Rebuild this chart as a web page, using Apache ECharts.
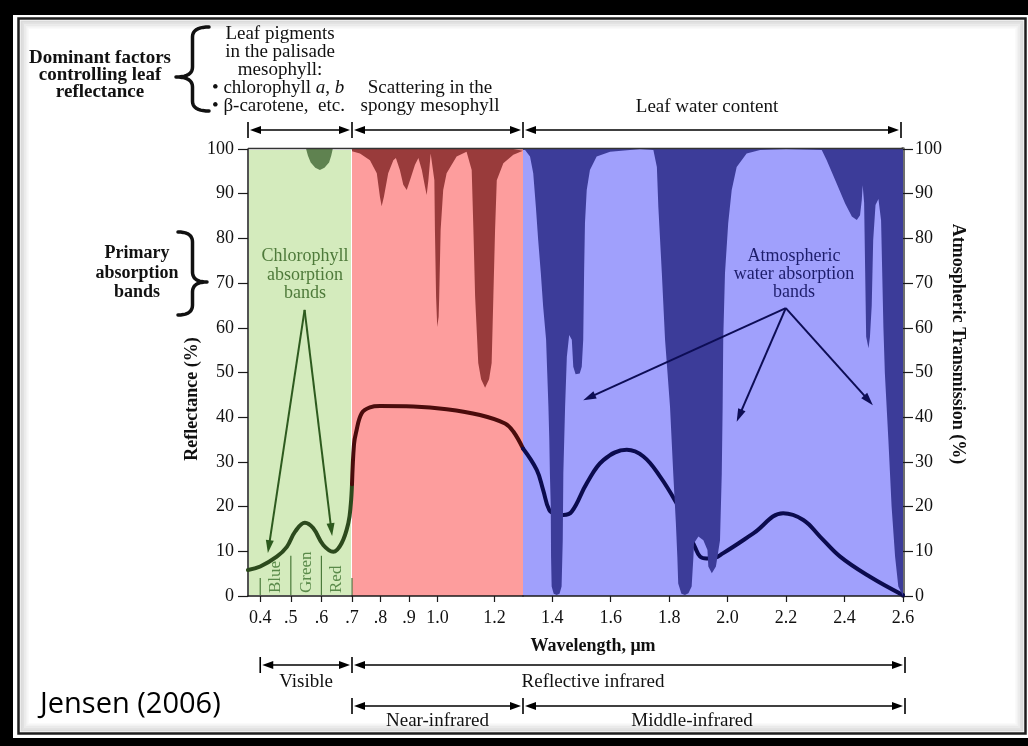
<!DOCTYPE html>
<html><head><meta charset="utf-8">
<script src="https://cdn.jsdelivr.net/npm/echarts@6/dist/echarts.min.js"></script>
<style>html,body{margin:0;padding:0;background:#000}#c{width:1028px;height:746px}</style>
</head><body><div id="c"></div>
<script>
// ---------------- DATA ----------------
const xTickValues = [0.4, 0.5, 0.6, 0.7, 0.8, 0.9, 1.0, 1.2, 1.4, 1.6, 1.8, 2.0, 2.2, 2.4, 2.6];
const xTickLabels = ['0.4', '.5', '.6', '.7', '.8', '.9', '1.0', '1.2', '1.4', '1.6', '1.8', '2.0', '2.2', '2.4', '2.6'];
const regionBounds = [0.36, 0.7, 1.3, 2.6]; // visible | near-IR | middle-IR

// leaf reflectance (%) vs wavelength (um)
const reflectanceVisible = [[0.36,5.8],[0.40,6.6],[0.454,8.8],[0.487,11.0],[0.514,14.4],[0.546,16.4],[0.573,15.2],[0.606,11.4],[0.639,9.9],[0.666,11.8],[0.688,16.3],[0.696,20.5],[0.70,25.0]];
const reflectanceNIR = [[0.70,25.0],[0.707,33.9],[0.714,36.5],[0.734,40.9],[0.763,42.2],[0.798,42.5],[0.915,42.4],[1.032,41.8],[1.149,40.5],[1.237,38.6],[1.266,36.8],[1.30,33.0]];
const reflectanceSWIR = [[1.30,33.0],[1.347,28.2],[1.369,23.7],[1.39,19.2],[1.413,18.3],[1.438,18.1],[1.467,18.9],[1.518,25.2],[1.575,30.4],[1.655,32.7],[1.712,31.2],[1.769,26.7],[1.826,20.7],[1.854,17.0],[1.871,13.5],[1.888,11.0],[1.906,8.8],[1.928,8.4],[1.946,8.4],[1.985,9.6],[2.088,14.0],[2.19,18.5],[2.259,17.0],[2.316,13.3],[2.385,8.8],[2.487,4.3],[2.60,0.2]];

// atmospheric transmission (%) vs wavelength (um)
const transmissionVisible = [[0.36,100],[0.55,100],[0.556,98.5],[0.565,97],[0.58,95.8],[0.595,95.3],[0.61,95.8],[0.625,97],[0.632,98.5],[0.637,100],[0.70,100]];
const transmissionNIR = [[0.70,99.5],[0.707,99.3],[0.728,99],[0.763,97.5],[0.787,94.6],[0.798,89.3],[0.804,87.2],[0.812,89.3],[0.827,94.6],[0.845,97.5],[0.854,98],[0.868,95.3],[0.880,92],[0.892,90.8],[0.906,93.5],[0.921,96.5],[0.933,98],[0.945,95.3],[0.956,91.6],[0.962,89.7],[0.968,93],[0.976,99],[0.989,93],[0.991,81.9],[0.995,67],[0.999,60.2],[1.004,62.5],[1.006,67],[1.011,81.9],[1.020,90.8],[1.032,94.6],[1.067,98.3],[1.102,99.4],[1.120,95.3],[1.126,81.9],[1.132,67],[1.143,52.1],[1.153,48.5],[1.167,46.6],[1.181,48.5],[1.190,52.1],[1.196,67],[1.202,81.9],[1.208,93],[1.231,96.8],[1.266,98.7],[1.30,99.6]];
const transmissionSWIR = [[1.300,99.8],[1.307,99.8],[1.324,98.3],[1.335,94.6],[1.344,87.1],[1.352,79.6],[1.361,72.2],[1.369,64.7],[1.379,57.3],[1.383,49.8],[1.387,42.3],[1.390,34.9],[1.392,27.4],[1.395,20],[1.396,8.8],[1.398,2.1],[1.405,0.5],[1.415,0.2],[1.425,0.5],[1.432,2.1],[1.436,12.5],[1.438,27.4],[1.444,42.3],[1.450,53.5],[1.458,58.4],[1.467,57.3],[1.472,51.3],[1.480,49.6],[1.486,49.4],[1.494,49.8],[1.501,51.3],[1.506,57.3],[1.509,72.2],[1.512,83.4],[1.518,90.8],[1.529,95.3],[1.552,98.3],[1.598,99.4],[1.666,99.8],[1.70,100],[1.746,99.8],[1.758,96],[1.763,87.1],[1.775,72.2],[1.786,57.3],[1.803,42.3],[1.814,27.4],[1.823,16.3],[1.828,8.8],[1.831,2.8],[1.842,0.5],[1.854,0.2],[1.866,0.6],[1.877,2.1],[1.883,8.8],[1.885,11.8],[1.900,13.3],[1.917,12.5],[1.931,10.3],[1.934,6.6],[1.946,5.1],[1.960,6.6],[1.974,12.5],[1.980,27.4],[1.983,42.3],[1.985,57.3],[1.991,72.2],[2.002,83.4],[2.014,90.8],[2.031,96],[2.065,99],[2.111,99.8],[2.20,100],[2.322,99.8],[2.339,97.5],[2.373,92.3],[2.402,87.8],[2.425,84.9],[2.442,84.1],[2.453,85.2],[2.459,88.6],[2.462,91.9],[2.467,88],[2.470,75],[2.474,58],[2.482,55.4],[2.487,58],[2.493,65],[2.498,79.6],[2.506,87.5],[2.516,88.8],[2.525,84],[2.528,75],[2.533,60],[2.538,49.8],[2.550,34.9],[2.561,20],[2.573,8.8],[2.584,2.1],[2.600,0]];

// annotation anchors (wavelength, %)
const chlorophyllArrowApex = [0.545, 64];
const chlorophyllArrowTips = [[0.425, 9.6], [0.635, 13.4]];
const waterArrowApex = [2.199, 64.4];
const waterArrowTips = [[1.506, 43.8], [2.031, 39], [2.497, 42.7]];
const bandLabels = ['Blue', 'Green', 'Red'];
const bandLabelCenters = [0.45, 0.55, 0.65];
const bandDividers = [0.4, 0.5, 0.6, 0.7];
const bandDividerTops = [4, 9, 9, 4];

// ---------------- CHART ----------------
const SERIF = "'Liberation Serif', 'DejaVu Serif', serif";
const chart = echarts.init(document.getElementById('c'), null, {renderer: 'canvas'});

function tickLabel(v) {
  const i = xTickValues.findIndex(t => Math.abs(t - v) < 1e-6);
  return i >= 0 ? xTickLabels[i] : '';
}
function mkX(i, lo, hi, last) {
  const ticks = xTickValues.filter(v => v >= lo - 1e-9 && (last ? v <= hi + 1e-9 : v < hi - 1e-9));
  return {
    gridIndex: i, type: 'value', min: lo, max: hi,
    axisLine: {show: true, onZero: false, lineStyle: {color: '#1a1a1a', width: 1.5}},
    axisTick: {show: true, length: 6, lineStyle: {color: '#1a1a1a', width: 1.2}, customValues: ticks},
    axisLabel: {show: true, customValues: ticks, formatter: tickLabel, margin: 13,
      fontFamily: SERIF, fontSize: 18, color: '#111'},
    splitLine: {show: false}
  };
}
const yLabel = {fontFamily: SERIF, fontSize: 18, color: '#111'};

const option = {
  backgroundColor: '#000',
  animation: false,
  grid: [
    {left: 248, width: 104, top: 149, height: 447, show: true, backgroundColor: '#d4ebbd', borderColor: '#ffffff', borderWidth: 2},
    {left: 352, width: 171, top: 149, height: 447, show: true, backgroundColor: '#fd9d9d', borderWidth: 0},
    {left: 523, width: 380, top: 149, height: 447, show: true, backgroundColor: '#a0a0fc', borderWidth: 0}
  ],
  xAxis: [
    mkX(0, regionBounds[0], regionBounds[1], false),
    mkX(1, regionBounds[1], regionBounds[2], false),
    mkX(2, regionBounds[2], regionBounds[3], true)
  ],
  yAxis: [
    {gridIndex: 0, type: 'value', min: 0, max: 100, interval: 10, position: 'left',
      axisLine: {show: true, lineStyle: {color: '#1a1a1a', width: 1.5}},
      axisTick: {show: true, length: 10, lineStyle: {color: '#1a1a1a', width: 1.2}},
      axisLabel: Object.assign({margin: 14}, yLabel), splitLine: {show: false}},
    {gridIndex: 1, type: 'value', min: 0, max: 100, show: false, splitLine: {show: false}},
    {gridIndex: 2, type: 'value', min: 0, max: 100, interval: 10, position: 'right',
      axisLine: {show: true, lineStyle: {color: '#6e6e6e', width: 4}},
      axisTick: {show: true, length: 10, lineStyle: {color: '#1a1a1a', width: 1.2}},
      axisLabel: Object.assign({margin: 12}, yLabel), splitLine: {show: false}}
  ],
  series: [
    ...[[transmissionVisible, '#5f8250'], [transmissionNIR, '#993b3b'], [transmissionSWIR, '#3c3c99']].map((d, i) => ({
      type: 'line', name: 'Atmospheric transmission', xAxisIndex: i, yAxisIndex: i, data: d[0],
      smooth: false, symbol: 'none', silent: true,
      lineStyle: {width: 0, opacity: 0},
      areaStyle: {color: d[1], opacity: 1, origin: 'end'}, z: 4
    })),
    ...[[reflectanceVisible, '#2c4a1d'], [reflectanceNIR, '#4a0c0c'], [reflectanceSWIR, '#0b0b4e']].map((d, i) => ({
      type: 'line', name: 'Reflectance', xAxisIndex: i, yAxisIndex: i, data: d[0],
      smooth: 0.4, symbol: 'none', silent: true, clip: false,
      lineStyle: {color: d[1], width: 4, cap: 'round', join: 'round'}, z: 3
    }))
  ]
};
chart.setOption(option);

// ---------------- ANNOTATIONS ----------------
const P = (g, x, y) => chart.convertToPixel({gridIndex: g}, [x, y]);
const G = [];
function txt(text, x, y, o) {
  o = o || {};
  const size = o.size || 19, weight = o.bold ? 'bold' : 'normal', fam = o.family || SERIF;
  const el = {type: 'text', x: x, y: y, rotation: o.rot || 0, z: 100,
    style: {text: text, x: 0, y: 0, fill: o.color || '#111',
      font: weight + ' ' + size + 'px ' + fam, fontSize: size, fontFamily: fam, fontWeight: weight,
      textAlign: o.align || 'center', align: o.align || 'center',
      textVerticalAlign: 'middle', verticalAlign: 'middle',
      lineHeight: o.lh || size}};
  if (o.rich) el.style.rich = o.rich;
  G.push(el);
}
function line(x1, y1, x2, y2, color, w) {
  G.push({type: 'line', z: 100, shape: {x1, y1, x2, y2}, style: {stroke: color || '#000', lineWidth: w || 1.6}});
}
function arrow(x1, y1, x2, y2, o) {
  o = o || {};
  const color = o.color || '#000', width = o.width || 1.6, hl = o.hl || 11, hw = o.hw || 8;
  const start = !!o.start, end = o.end !== false;
  const dx = x2 - x1, dy = y2 - y1, L = Math.hypot(dx, dy), ux = dx / L, uy = dy / L, nx = -uy, ny = ux;
  const sx = start ? x1 + ux * hl * 0.8 : x1, sy = start ? y1 + uy * hl * 0.8 : y1;
  const ex = end ? x2 - ux * hl * 0.8 : x2, ey = end ? y2 - uy * hl * 0.8 : y2;
  line(sx, sy, ex, ey, color, width);
  const head = (tx, ty, ax, ay) => G.push({type: 'polygon', z: 100, shape: {points: [[tx, ty],
    [tx - ax * hl + nx * hw / 2, ty - ay * hl + ny * hw / 2], [tx - ax * hl - nx * hw / 2, ty - ay * hl - ny * hw / 2]]},
    style: {fill: color}});
  if (end) head(x2, y2, ux, uy);
  if (start) head(x1, y1, -ux, -uy);
}
function bar(x, y) { line(x, y - 8, x, y + 8, '#000', 1.6); }
function brace(xEnd, xTip, yTop, yTip, yBot) {
  const xm = xEnd + (xTip - xEnd) * 0.5, r = 10, pts = [];
  const quad = (p0, p1, p2) => { for (let t = 0; t <= 1.0001; t += 0.1) {
    pts.push([(1-t)*(1-t)*p0[0] + 2*(1-t)*t*p1[0] + t*t*p2[0], (1-t)*(1-t)*p0[1] + 2*(1-t)*t*p1[1] + t*t*p2[1]]); } };
  quad([xEnd, yTop], [xm, yTop], [xm, yTop + r]);
  quad([xm, yTip - r], [xm, yTip], [xTip, yTip]);
  quad([xTip, yTip], [xm, yTip], [xm, yTip + r]);
  quad([xm, yBot - r], [xm, yBot], [xEnd, yBot]);
  G.push({type: 'polyline', z: 100, shape: {points: pts}, style: {stroke: '#111', lineWidth: 3.5, fill: null, lineJoin: 'round', lineCap: 'round'}});
}

// frame
G.push({type: 'rect', z: -10, shape: {x: 13, y: 15, width: 1015, height: 723}, style: {fill: '#fff'}});
for (let k = 5; k >= 1; k--) {
  const d = 1.2 + k * 1.7;
  G.push({type: 'rect', z: -9, shape: {x: 18.5 + d, y: 18.5 + d, width: 1007 - 2 * d, height: 715 - 2 * d},
    style: {fill: null, stroke: 'rgba(0,0,0,' + (0.17 - k * 0.03).toFixed(3) + ')', lineWidth: 1.8}});
}
G.push({type: 'rect', z: -8, shape: {x: 18.5, y: 18.5, width: 1007, height: 715}, style: {fill: null, stroke: '#1e1e1e', lineWidth: 2.5}});

const xL = P(0, regionBounds[0], 100)[0], x07 = P(1, regionBounds[1], 100)[0];
const x13 = P(2, regionBounds[2], 100)[0], xR = P(2, regionBounds[3], 100)[0];
const x04 = P(0, 0.4, 0)[0];
const yTop = P(0, 0.4, 100)[1];
// top frame line of plot
line(xL, yTop - 0.5, xR, yTop - 0.5, '#333', 1.5);

// top arrow row
const yA = 130;
[xL, x07, x13, xR - 2].forEach(x => bar(x, yA));
arrow(xL + 2, yA, x07 - 2, yA, {start: true});
arrow(x07 + 2, yA, x13 - 2, yA, {start: true});
arrow(x13 + 2, yA, xR - 4, yA, {start: true});

// bottom arrow rows
const yB1 = 665, yB2 = 706;
[x04, x07, xR + 2].forEach(x => bar(x, yB1));
arrow(x04 + 2, yB1, x07 - 2, yB1, {start: true});
arrow(x07 + 2, yB1, xR, yB1, {start: true});
[x07, x13, xR + 2].forEach(x => bar(x, yB2));
arrow(x07 + 2, yB2, x13 - 2, yB2, {start: true});
arrow(x13 + 2, yB2, xR, yB2, {start: true});

// texts top
txt('Dominant factors\ncontrolling leaf\nreflectance', 100, 75, {bold: true, lh: 17});
brace(209, 176, 27, 77, 111);
txt('Leaf pigments\nin the palisade\nmesophyll:', 280, 52, {lh: 18});
txt('• chlorophyll {i|a}, {i|b}\n• β-carotene,  etc.', 212, 97, {align: 'left', lh: 18,
  rich: {i: {fontStyle: 'italic', fontFamily: SERIF, fontSize: 19, fill: '#111'}}});
txt('Scattering in the\nspongy mesophyll', 430, 97, {lh: 18});
txt('Leaf water content', 707, 107);

// left side
txt('Primary\nabsorption\nbands', 137, 273, {bold: true, lh: 19.5, size: 18});
brace(178, 207, 232, 282, 315);
txt('Reflectance (%)', 192, 399, {bold: true, rot: Math.PI / 2, size: 18});
txt('Atmospheric Transmission (%)', 958, 344, {bold: true, rot: -Math.PI / 2, size: 18});

// bottom texts
txt('Wavelength, μm', 593, 646, {bold: true, size: 18});
txt('Visible', (x04 + x07) / 2, 682);
txt('Reflective infrared', 593, 682);
txt('Near-infrared', (x07 + x13) / 2, 721);
txt('Middle-infrared', 692, 721);
txt('Jensen (2006)', 40, 705, {align: 'left', size: 29, family: "'Open Sans', 'Noto Sans', sans-serif", color: '#000'});

// chlorophyll annotation
txt('Chlorophyll\nabsorption\nbands', 305, 275, {color: '#4e7a3a', lh: 18.5, size: 18});
const ca = P(0, chlorophyllArrowApex[0], chlorophyllArrowApex[1]);
chlorophyllArrowTips.forEach(t => { const p = P(0, t[0], t[1]); arrow(ca[0], ca[1], p[0], p[1], {color: '#2d5a1e', width: 2, hl: 13, hw: 8}); });

// band labels and dividers
bandDividers.forEach((v, i) => {
  const g = v < 0.7 - 1e-9 ? 0 : 1;
  const a = P(g, v, bandDividerTops[i]), b = P(g, v, 0);
  line(a[0], a[1], b[0], b[1] - 1, '#4a7a3a', 1.2);
});
bandLabels.forEach((s, i) => {
  const p = P(0, bandLabelCenters[i], 0);
  txt(s, p[0], 593, {align: 'left', rot: Math.PI / 2, color: '#5a8a4a', size: 17});
});

// water absorption annotation
txt('Atmospheric\nwater absorption\nbands', 794, 274, {color: '#1d1d6b', lh: 18, size: 18});
const wa = P(2, waterArrowApex[0], waterArrowApex[1]);
waterArrowTips.forEach(t => { const p = P(2, t[0], t[1]); arrow(wa[0], wa[1], p[0], p[1], {color: '#0d0d55', width: 2, hl: 13, hw: 8}); });

chart.setOption({graphic: {elements: G}});
</script>
</body></html>
